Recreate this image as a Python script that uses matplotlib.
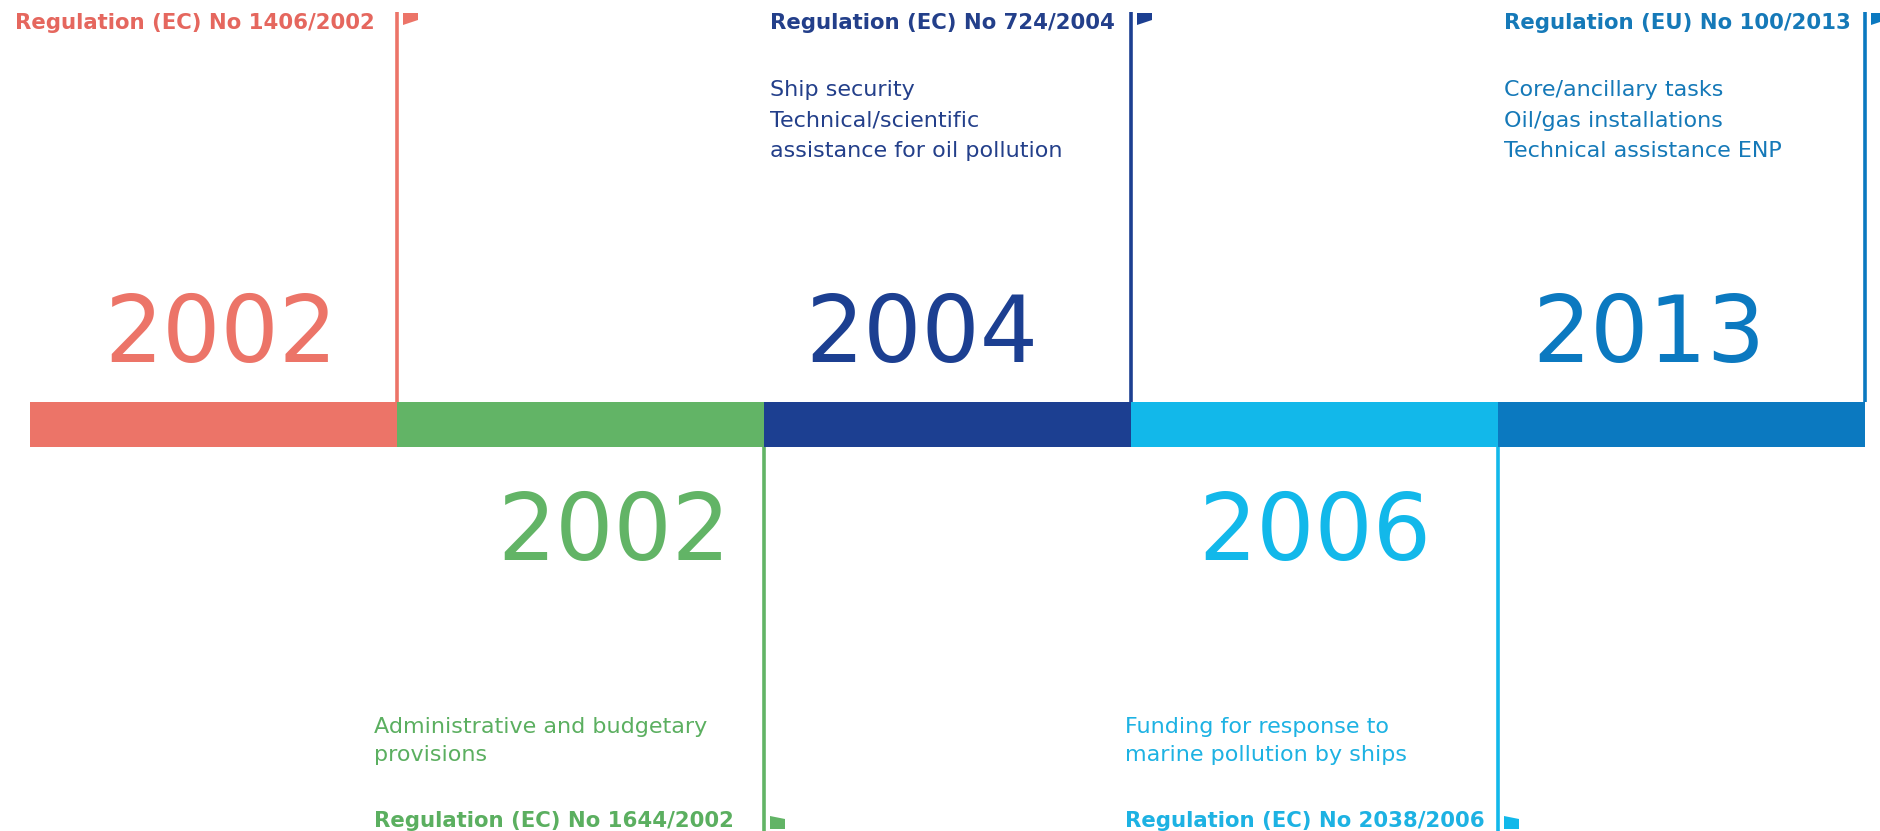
import matplotlib.pyplot as plt
from matplotlib.patches import Polygon

# timeline content
years = ["2002", "2002", "2004", "2006", "2013"]
regulations = [
    "Regulation (EC) No 1406/2002",
    "Regulation (EC) No 1644/2002",
    "Regulation (EC) No 724/2004",
    "Regulation (EC) No 2038/2006",
    "Regulation (EU) No 100/2013",
]
descriptions = [
    "",
    "Administrative and budgetary\nprovisions",
    "Ship security\nTechnical/scientific\nassistance for oil pollution",
    "Funding for response to\nmarine pollution by ships",
    "Core/ancillary tasks\nOil/gas installations\nTechnical assistance ENP",
]
sides = ["up", "down", "up", "down", "up"]

# styling / layout
bar_colors = ["#EC7468", "#62B466", "#1C3F91", "#12B8EA", "#0B79C0"]
text_colors = ["#E5675E", "#5BAF60", "#233F8A", "#1DB2E3", "#1579B8"]
year_centres = [0.52, 1.59, 2.43, 3.50, 4.41]
label_gap_px = [22, 30, 16, 13, 14]

SEG = 367.0          # px per segment
W, H = 1880, 831
font = "DejaVu Sans"

fig = plt.figure(figsize=(W / 100, H / 100), dpi=100)
ax = fig.add_axes([0, 0, 1, 1])
ax.set_xlim(-30 / SEG, (W - 30) / SEG)
ax.set_ylim(H, 0)
ax.axis("off")

bar_top, bar_bot = 402, 447
ax.barh([(bar_top + bar_bot) / 2] * len(years), [1] * len(years),
        left=range(len(years)), height=bar_bot - bar_top,
        color=bar_colors, edgecolor="none")

lw = 2.6
fw = 15 / SEG
g = 6 / SEG
labels = []
for i, (yr, side) in enumerate(zip(years, sides)):
    x = i + 1
    c = bar_colors[i]
    tc = text_colors[i]
    ax.text(year_centres[i], 336 if side == "up" else 534, yr, fontsize=66,
            family=font, color=c, ha="center", va="center")
    if side == "up":
        ax.plot([x, x], [bar_top, 12], color=c, lw=lw, solid_capstyle="butt")
        flag = [(x + g, 13), (x + g + fw, 13), (x + g + fw, 20), (x + g, 25)]
        label_y = 29
    else:
        ax.plot([x, x], [bar_bot, H], color=c, lw=lw, solid_capstyle="butt")
        flag = [(x + g, 816), (x + g + fw, 819), (x + g + fw, 829), (x + g, 829)]
        label_y = 827
    ax.add_patch(Polygon(flag, closed=True, color=c, lw=0))
    t = ax.text(x - label_gap_px[i] / SEG, label_y, regulations[i], fontsize=15.3,
                family=font, fontweight="bold", color=tc, ha="right", va="baseline")
    labels.append(t)

fig.canvas.draw()
r = fig.canvas.get_renderer()
for i, t in enumerate(labels):
    if not descriptions[i]:
        continue
    bb = t.get_window_extent(r)
    left = ax.transData.inverted().transform((bb.x0, bb.y0))[0]
    if sides[i] == "up":
        top, ls = 80, 1.66
    else:
        top, ls = 717, 1.52
    ax.text(left, top, descriptions[i], fontsize=16, family=font,
            color=text_colors[i], ha="left", va="top", linespacing=ls)

fig.savefig("out.png", dpi=100, facecolor="white")
